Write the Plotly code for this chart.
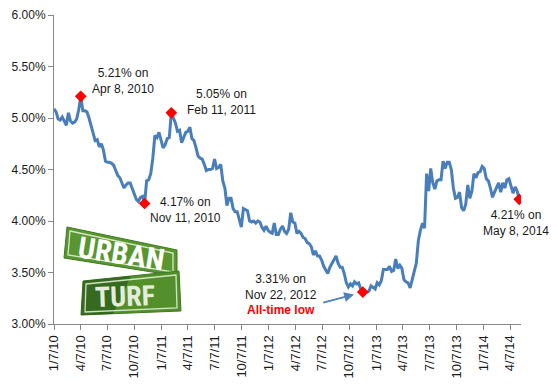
import pandas as pd
import plotly.graph_objects as go

# Weekly 30-year fixed mortgage rate (%)
rates_2010 = [5.09, 5.06, 4.99, 4.98, 5.01, 4.97, 4.93, 5.05, 4.97, 4.95, 4.96, 4.99,
              5.08, 5.21, 5.07, 5.07, 5.06, 5.00, 4.93, 4.84, 4.78, 4.79, 4.72, 4.75,
              4.69, 4.58, 4.57, 4.57, 4.56, 4.54, 4.49, 4.44, 4.42, 4.36, 4.32, 4.35,
              4.37, 4.37, 4.32, 4.27, 4.21, 4.19, 4.23, 4.24, 4.17, 4.39, 4.40, 4.46,
              4.61, 4.83, 4.81, 4.86]
rates_2011 = [4.77, 4.71, 4.74, 4.80, 4.81, 5.05, 5.00, 4.95, 4.87, 4.88, 4.76, 4.81,
              4.86, 4.87, 4.91, 4.80, 4.78, 4.71, 4.63, 4.61, 4.60, 4.55, 4.49, 4.50,
              4.50, 4.51, 4.60, 4.51, 4.52, 4.55, 4.39, 4.32, 4.15, 4.22, 4.22, 4.12,
              4.09, 4.09, 4.01, 3.94, 4.12, 4.11, 4.10, 4.00, 3.99, 4.00, 3.98, 4.00,
              3.99, 3.94, 3.91, 3.95]
rates_2012 = [3.91, 3.89, 3.88, 3.98, 3.87, 3.87, 3.92, 3.95, 3.90, 3.88, 3.92, 4.08,
              3.99, 3.98, 3.88, 3.90, 3.88, 3.84, 3.83, 3.79, 3.78, 3.75, 3.67, 3.71,
              3.66, 3.66, 3.62, 3.56, 3.53, 3.49, 3.55, 3.59, 3.62, 3.66, 3.59, 3.55,
              3.55, 3.49, 3.40, 3.36, 3.39, 3.37, 3.41, 3.39, 3.40, 3.34, 3.31, 3.32,
              3.31, 3.32, 3.37, 3.35]
rates_2013 = [3.34, 3.40, 3.38, 3.42, 3.53, 3.53, 3.53, 3.56, 3.51, 3.52, 3.63, 3.54,
              3.57, 3.54, 3.43, 3.41, 3.40, 3.35, 3.42, 3.51, 3.59, 3.81, 3.91, 3.98,
              3.93, 4.46, 4.29, 4.51, 4.37, 4.31, 4.39, 4.40, 4.40, 4.58, 4.51, 4.57,
              4.57, 4.50, 4.32, 4.22, 4.23, 4.28, 4.13, 4.10, 4.16, 4.35, 4.22, 4.29,
              4.46, 4.42, 4.47, 4.48]
rates_2014 = [4.53, 4.51, 4.41, 4.39, 4.32, 4.23, 4.28, 4.33, 4.37, 4.28, 4.37, 4.32,
              4.40, 4.41, 4.34, 4.27, 4.33, 4.29, 4.21]

rates = rates_2010 + rates_2011 + rates_2012 + rates_2013 + rates_2014
dates = pd.date_range("2010-01-07", periods=len(rates), freq="7D")

# Highlighted points
hl_dates = ["2010-04-08", "2010-11-11", "2011-02-10", "2012-11-22", "2014-05-08"]
hl_values = [5.21, 4.17, 5.05, 3.31, 4.21]
hl_labels = ["5.21% on<br>Apr 8, 2010",
             "4.17% on<br>Nov 11, 2010",
             "5.05% on<br>Feb 11, 2011",
             "3.31% on<br>Nov 22, 2012<br><span style='color:#FF0000'><b>All-time low</b></span>",
             "4.21% on<br>May 8, 2014"]

x_tick_dates = ["2010-01-07", "2010-04-07", "2010-07-07", "2010-10-07",
                "2011-01-07", "2011-04-07", "2011-07-07", "2011-10-07",
                "2012-01-07", "2012-04-07", "2012-07-07", "2012-10-07",
                "2013-01-07", "2013-04-07", "2013-07-07", "2013-10-07",
                "2014-01-07", "2014-04-07"]
x_tick_text = ["1/7/10", "4/7/10", "7/7/10", "10/7/10",
               "1/7/11", "4/7/11", "7/7/11", "10/7/11",
               "1/7/12", "4/7/12", "7/7/12", "10/7/12",
               "1/7/13", "4/7/13", "7/7/13", "10/7/13",
               "1/7/14", "4/7/14"]
y_tick_vals = [3.0, 3.5, 4.0, 4.5, 5.0, 5.5, 6.0]
y_tick_text = ["3.00%", "3.50%", "4.00%", "4.50%", "5.00%", "5.50%", "6.00%"]

W, H = 557, 384
ML, MR, MT, MB = 54, 36, 15, 60
PW, PH = W - ML - MR, H - MT - MB

FONT = "Liberation Sans, Arial, sans-serif"
LOGO_FONT = "Liberation Sans Narrow, Arial Narrow, Roboto Condensed, Liberation Sans, sans-serif"

fig = go.Figure()
fig.add_trace(go.Scatter(x=dates, y=rates, mode="lines",
                         line=dict(color="#4A7EBB", width=3),
                         hoverinfo="skip", showlegend=False))
fig.add_trace(go.Scatter(x=hl_dates, y=hl_values, mode="markers",
                         marker=dict(symbol="diamond", size=9, color="#FF0000",
                                     line=dict(width=0)),
                         showlegend=False))

annotations = []
shifts = [(42, 15), (41, -7), (50, 11), (-82, -2), (-3, -24)]
for d, v, t, (dx, dy) in zip(hl_dates, hl_values, hl_labels, shifts):
    annotations.append(dict(x=d, y=v, xref="x", yref="y", text=t, showarrow=False,
                            xshift=dx, yshift=dy, xanchor="center", yanchor="middle",
                            align="center", font=dict(family=FONT, size=12, color="#1a1a1a")))
# Arrow to all-time low
annotations.append(dict(x=hl_dates[3], y=hl_values[3], xref="x", yref="y", text="",
                        showarrow=True, ax=-41, ay=11, axref="pixel", ayref="pixel",
                        arrowhead=2, arrowsize=1.1, arrowwidth=1.8, arrowcolor="#4F81BD",
                        standoff=9))


def P(px, py):
    return (px - ML) / PW, (H - MB - py) / PH


def poly(points):
    pts = [P(x, y) for x, y in points]
    return "M " + " L ".join(f"{x:.4f},{y:.4f}" for x, y in pts) + " Z"


shapes = []
# Logo: upper sign
shapes.append(dict(type="path", xref="paper", yref="paper",
                   path=poly([(67, 227), (177, 250), (177, 276), (64, 258)]),
                   fillcolor="#5A9630", line=dict(color="#3E7A22", width=1)))
shapes.append(dict(type="path", xref="paper", yref="paper",
                   path=poly([(70, 231), (173, 253), (173, 272), (68, 255)]),
                   fillcolor="rgba(0,0,0,0)", line=dict(color="rgba(235,245,225,0.85)", width=1.3)))
# Lower sign
shapes.append(dict(type="path", xref="paper", yref="paper",
                   path=poly([(83, 281), (179, 271), (181, 311), (81, 315)]),
                   fillcolor="#53902B", line=dict(color="#3E7A22", width=1)))
shapes.append(dict(type="path", xref="paper", yref="paper",
                   path=poly([(83, 281), (131, 276), (113, 314), (81, 315)]),
                   fillcolor="rgba(20,60,15,0.45)", line=dict(width=0)))
shapes.append(dict(type="path", xref="paper", yref="paper",
                   path=poly([(86, 284), (176, 275), (177, 308), (85, 312)]),
                   fillcolor="rgba(0,0,0,0)", line=dict(color="rgba(235,245,225,0.85)", width=1.3)))

ux, uy = P(121, 253)
annotations.append(dict(x=ux, y=uy, xref="paper", yref="paper", text="<b>URBAN</b>",
                        showarrow=False, textangle=9, xanchor="center", yanchor="middle",
                        font=dict(family=LOGO_FONT, size=30, color="#FFFFFF")))
tx, ty = P(125, 296)
annotations.append(dict(x=tx, y=ty, xref="paper", yref="paper", text="<b>TURF</b>",
                        showarrow=False, textangle=-2, xanchor="center", yanchor="middle",
                        font=dict(family=LOGO_FONT, size=28, color="#E4ECDD")))

fig.update_layout(
    width=W, height=H,
    margin=dict(l=ML, r=MR, t=MT, b=MB, pad=0),
    paper_bgcolor="white", plot_bgcolor="white",
    font=dict(family=FONT, size=12, color="#1a1a1a"),
    showlegend=False,
    annotations=annotations,
    shapes=shapes,
    xaxis=dict(type="date", range=["2010-01-07", "2014-05-14"],
               tickmode="array", tickvals=x_tick_dates, ticktext=x_tick_text,
               tickangle=-90, ticks="outside", ticklen=5, tickcolor="#868686",
               showline=True, linecolor="#868686", linewidth=1,
               showgrid=False, zeroline=False, automargin=False,
               tickfont=dict(family=FONT, size=13, color="#1a1a1a")),
    yaxis=dict(range=[3.0, 6.0], tickmode="array", tickvals=y_tick_vals, ticktext=y_tick_text,
               ticks="outside", ticklen=5, tickcolor="#868686",
               showline=True, linecolor="#868686", linewidth=1,
               showgrid=False, zeroline=False, automargin=False,
               tickfont=dict(family=FONT, size=12, color="#1a1a1a")),
)

fig.write_html("out.html", config={"displayModeBar": False},
               post_script="document.body.style.margin='0';document.body.style.padding='0';")
